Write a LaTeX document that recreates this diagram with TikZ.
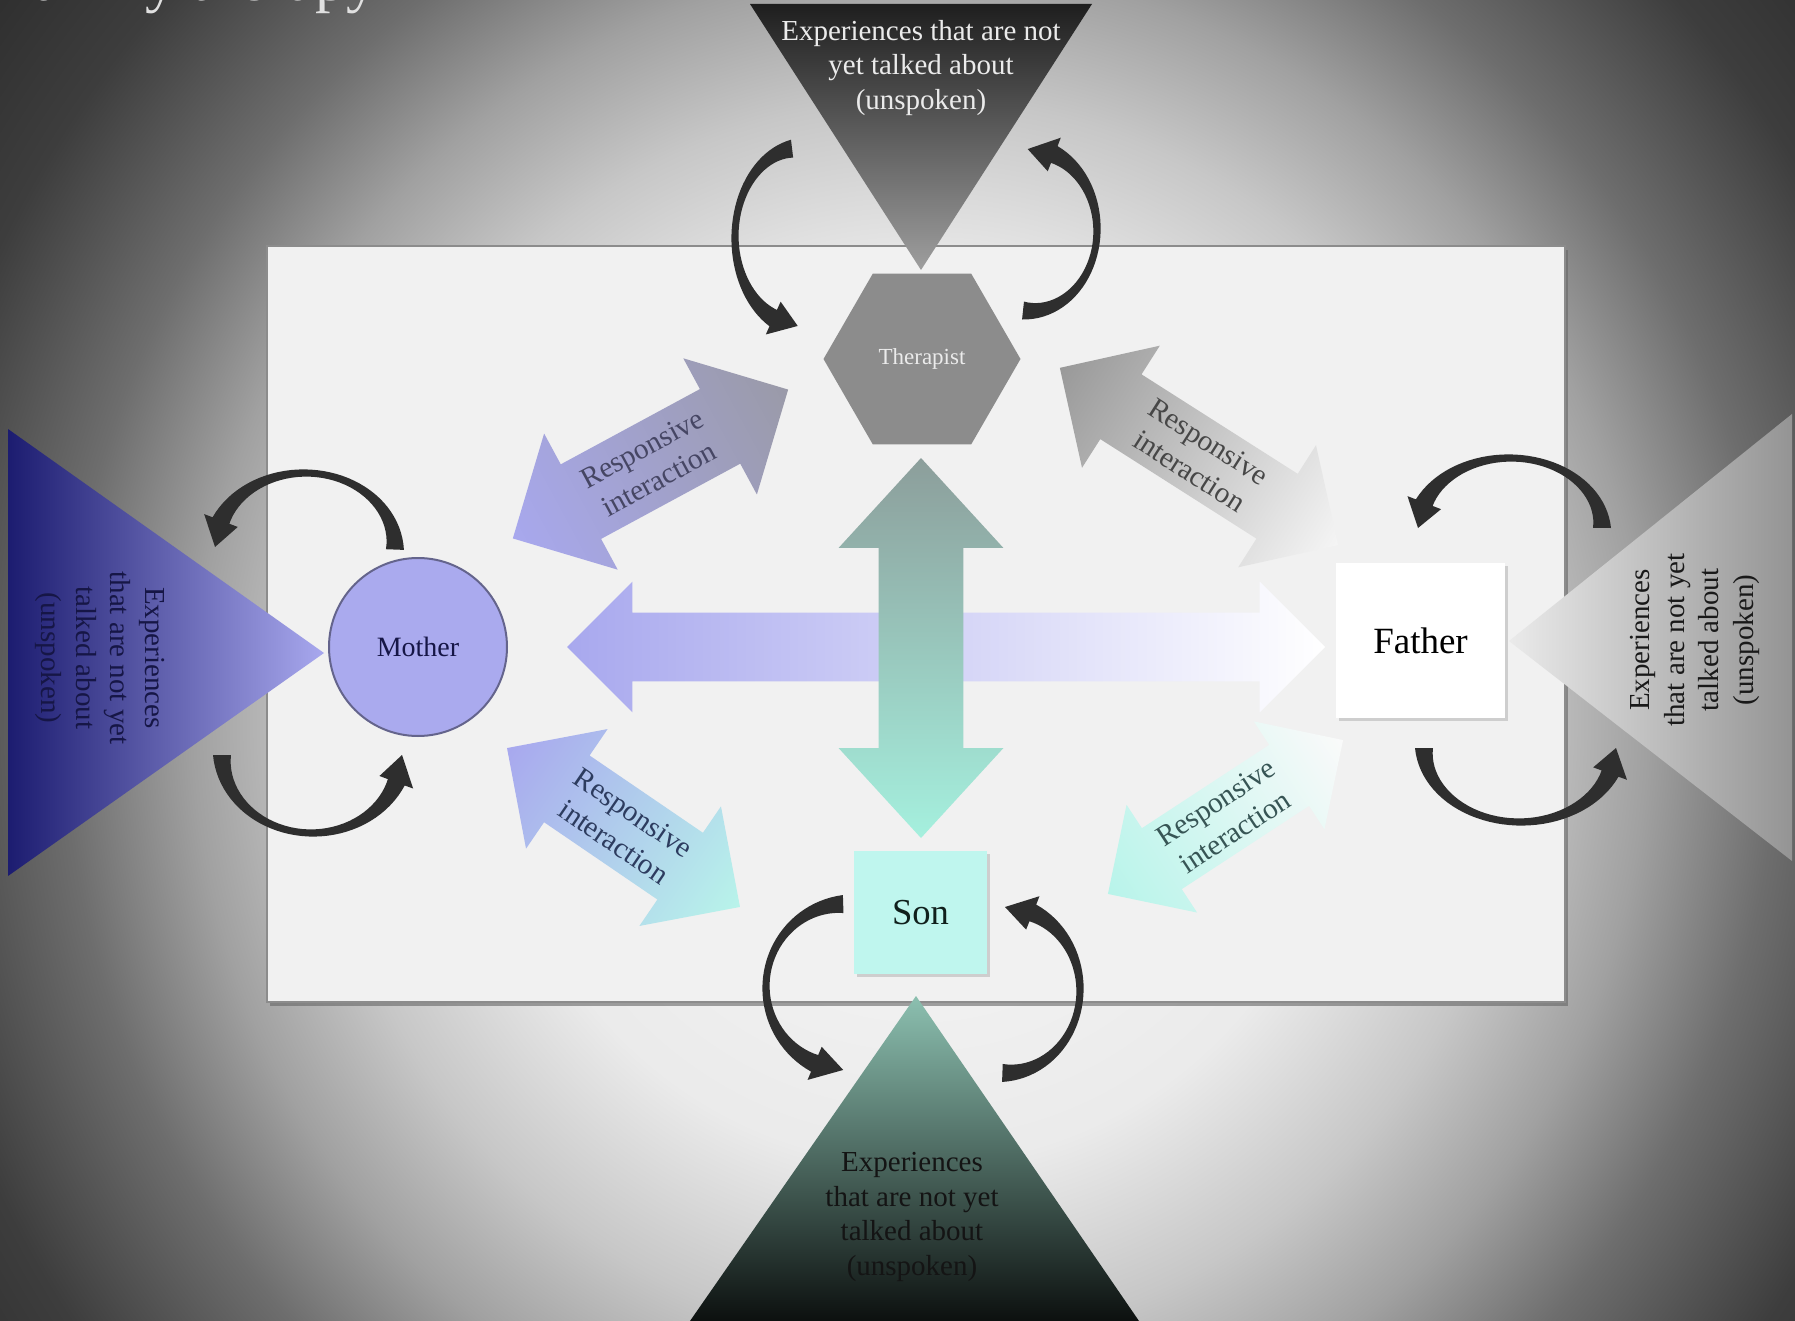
\documentclass[tikz,border=0pt]{standalone}
\usepackage{fontspec}
\setmainfont{Liberation Serif}
\usetikzlibrary{shapes.geometric,shapes.arrows,shadows}

\pgfdeclareradialshading{bgshade}{\pgfpoint{0bp}{0bp}}{%
 color(0bp)=(black!2); color(16.7bp)=(black!8); color(23.3bp)=(black!22);
 color(28.3bp)=(black!37); color(33.3bp)=(black!57); color(40bp)=(black!76);
 color(48.3bp)=(black!85); color(71bp)=(black!88)}

\definecolor{lav}{RGB}{168,168,238}
\definecolor{lavdark}{RGB}{28,28,112}
\definecolor{navytext}{RGB}{22,22,70}
\definecolor{tealA}{RGB}{184,244,234}
\definecolor{sonfill}{RGB}{191,246,238}
\definecolor{vtop}{RGB}{140,158,155}
\definecolor{vbot}{RGB}{165,240,222}
\definecolor{graylav}{RGB}{154,154,168}
\definecolor{botteal}{RGB}{140,192,176}
\definecolor{botmid}{RGB}{72,108,98}
\definecolor{botlow}{RGB}{12,16,15}
\definecolor{arcfill}{RGB}{46,46,46}
\definecolor{mothfill}{RGB}{170,170,238}
\definecolor{mothline}{RGB}{100,100,140}

\tikzset{
  darrow/.style={double arrow, double arrow tip angle=90, inner xsep=0pt, outer sep=0pt},
  rtext/.style={align=center, font=\fontsize{14.7}{17.5}\selectfont},
  trtext/.style={align=center, font=\fontsize{14.5}{17.2}\selectfont},
  curv/.style={fill=arcfill},
}

\newcommand\curvarr[6]{%
  \pgfmathsetmacro\cA{#5}%
  \pgfmathsetmacro\cT{#6}%
  \pgfmathsetmacro\cR{(#3+#4)/2}%
  \pgfmathsetmacro\cH{#6-sign(#6-#5)*30/\cR*57.2958}%
  \fill[curv] plot[domain=0:1, samples=41, variable=\q]
     ({#1+(#3+3.5+5.5*(1-2*\q)*(1-2*\q))*cos(\cA+\q*(\cH-\cA))},
      {#2+(#4+3.5+5.5*(1-2*\q)*(1-2*\q))*sin(\cA+\q*(\cH-\cA))})
   -- ({#1+(#3+18)*cos(\cH)},{#2+(#4+18)*sin(\cH)})
   -- ({#1+#3*cos(\cT)},{#2+#4*sin(\cT)})
   -- ({#1+(#3-18)*cos(\cH)},{#2+(#4-18)*sin(\cH)})
   -- plot[domain=1:0, samples=41, variable=\q]
     ({#1+(#3-3.5-5.5*(1-2*\q)*(1-2*\q))*cos(\cA+\q*(\cH-\cA))},
      {#2+(#4-3.5-5.5*(1-2*\q)*(1-2*\q))*sin(\cA+\q*(\cH-\cA))})
   -- cycle;}

\begin{document}
\begin{tikzpicture}[x=0.5pt, y=-0.5pt]
\useasboundingbox (0,0) rectangle (1795,1321);
\clip (0,0) rectangle (1795,1321);
% background: elliptic radial gradient centred near (920,720)
\fill[black!60] (0,0) rectangle (1795,1321);
\begin{pgfscope}
  \pgftransformshift{\pgfpointxy{920}{720}}
  \pgftransformxscale{12.8}
  \pgftransformyscale{13.25}
  \pgflowlevelsynccm
  \pgfuseshading{bgshade}
\end{pgfscope}

% title (cut by the top edge)
\node[anchor=base west, inner sep=0, text=black!12, font=\fontsize{31}{31}\selectfont] (title) at (0,1) {Family therapy};

% central panel
\fill[black!60, opacity=0.6] (270,250) rectangle (1568,1006);
\draw[fill=black!5.5, draw=black!45, line width=1pt] (267,246) rectangle (1565,1002);

% triangles
\shade[top color=black!88, bottom color=black!38] (750,4) -- (1092,4) -- (921,270) -- cycle;
\shade[left color=lavdark, right color=lav] (8,429) -- (324,653) -- (8,876) -- cycle;
\shade[left color=black!8, right color=black!42] (1509,641) -- (1792,414) -- (1792,861) -- cycle;
\shade[top color=botteal, middle color=botmid, bottom color=botlow] (916,996) -- (1139,1321) -- (690,1321) -- cycle;

\node[trtext, text=black!8] (ttop) at (921,68) {Experiences that are not\\yet talked about\\(unspoken)};
\node[trtext, text=navytext, rotate=-90] (tleft) at (100,658) {Experiences\\that are not yet\\talked about\\(unspoken)};
\node[trtext, text=black!90, rotate=90] (tright) at (1695,640) {Experiences\\that are not yet\\talked about\\(unspoken)};
\node[trtext, text=black!92] (tbot) at (912,1217) {Experiences\\that are not yet\\talked about\\(unspoken)};

% horizontal double arrow
\node[darrow, minimum height=379pt, minimum width=65pt, inner ysep=17pt,
      double arrow head extend=15.5pt, left color=lav, right color=white] (harr) at (946,647) {};
% vertical double arrow
\begin{scope}[transform canvas={shift={(921,648)}, rotate=-90}]
\node[darrow, double arrow tip angle=85, minimum height=190pt, minimum width=82pt, inner ysep=21pt,
      double arrow head extend=20pt, left color=vtop, right color=vbot] (varr) at (0,0) {};
\end{scope}

% diagonal double arrows
\begin{scope}[transform canvas={shift={(650.5,464)}, rotate=28.4}]
\node[darrow, minimum height=156.5pt, minimum width=77pt, inner ysep=21pt,
      double arrow head extend=17.5pt, left color=lav, right color=graylav] (a1) at (0,0) {};
\end{scope}
\begin{scope}[transform canvas={shift={(1199,456.5)}, rotate=-32.5}]
\node[darrow, minimum height=165pt, minimum width=72pt, inner ysep=19pt,
      double arrow head extend=17pt, left color=black!40, right color=black!4] (a2) at (0,0) {};
\end{scope}
\begin{scope}[transform canvas={shift={(623.5,827.5)}, rotate=-34.3}]
\node[darrow, minimum height=141pt, minimum width=72pt, inner ysep=20pt,
      double arrow head extend=16pt, left color=lav, right color=tealA] (a3) at (0,0) {};
\end{scope}
\begin{scope}[transform canvas={shift={(1225.5,817)}, rotate=33.2}]
\node[darrow, minimum height=140.5pt, minimum width=64pt, inner ysep=18pt,
      double arrow head extend=14pt, left color=tealA, right color=black!2] (a4) at (0,0) {};
\end{scope}
\node[rtext, rotate=28.4, text={rgb,255:red,70;green,70;blue,100}] (t1) at (650.5,464) {Responsive\\interaction};
\node[rtext, rotate=-32.5, text=black!72] (t2) at (1199,456.5) {Responsive\\interaction};
\node[rtext, rotate=-34.3, text={rgb,255:red,45;green,60;blue,95}] (t3) at (623.5,827.5) {Responsive\\interaction};
\node[rtext, rotate=33.2, text={rgb,255:red,55;green,85;blue,85}] (t4) at (1225.5,817) {Responsive\\interaction};

% people
\node[regular polygon, regular polygon sides=6, minimum size=98.5pt, inner sep=0pt, fill=black!45,
      text=black!8, font=\fontsize{11.5}{13}\selectfont] (ther) at (922,359) {Therapist};
\node[circle, minimum size=89pt, inner sep=0pt, fill=mothfill, draw=mothline, line width=1pt,
      text=navytext, font=\fontsize{14}{16}\selectfont] (mother) at (418,647) {Mother};
\node[rectangle, minimum width=84.5pt, minimum height=77.5pt, fill=white,
      drop shadow={shadow xshift=1.5pt, shadow yshift=-1.5pt, opacity=0.3},
      font=\fontsize{18.5}{20}\selectfont] (father) at (1420.5,640.5) {Father};
\node[rectangle, minimum width=66.5pt, minimum height=61.5pt, fill=sonfill,
      drop shadow={shadow xshift=1.5pt, shadow yshift=-1.5pt, opacity=0.3},
      text={rgb,255:red,16;green,32;blue,28}, font=\fontsize{18.3}{20}\selectfont] (son) at (920.5,912.5) {Son};

% curved arrows
\curvarr{800}{237}{65}{89}{-97}{-268}
\curvarr{1030}{230}{67}{81}{96}{-92}
\curvarr{305}{547}{90}{74}{2}{-180}
\curvarr{312}{755}{90}{78}{180}{0}
\curvarr{1510}{528}{92}{70}{0}{-180}
\curvarr{1520}{748}{96}{74}{180}{0}
\curvarr{846}{987}{80}{83}{-92}{-268}
\curvarr{1005}{990}{75}{83}{92}{-90}
\end{tikzpicture}
\end{document}
